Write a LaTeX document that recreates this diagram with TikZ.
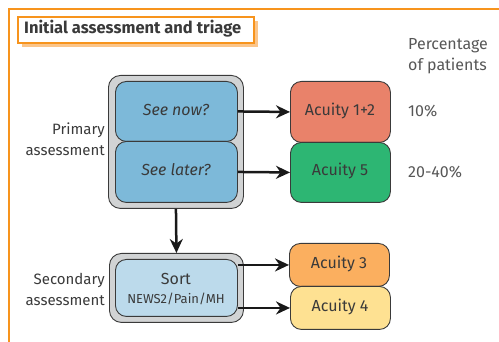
\documentclass[tikz,border=0pt]{standalone}
\usepackage{fontspec}
\setmainfont{Fira Sans}
\usetikzlibrary{arrows.meta}
\definecolor{frameor}{HTML}{F7941D}
\definecolor{shadowor}{HTML}{FBC58A}
\definecolor{greyfill}{HTML}{D1D3D4}
\definecolor{edge}{HTML}{3A3A3A}
\definecolor{txt}{HTML}{3A3A3A}
\definecolor{blue1}{HTML}{7DB9D9}
\definecolor{blue2}{HTML}{BCDAEB}
\definecolor{red1}{HTML}{E9826A}
\definecolor{green1}{HTML}{2DB673}
\definecolor{orange1}{HTML}{FBAF5F}
\definecolor{yellow1}{HTML}{FEE192}
\tikzset{
  outerbox/.style={draw=edge, line width=0.9pt, fill=greyfill, rounded corners=12pt},
  innerbox/.style={draw=edge, line width=0.9pt, rounded corners=11pt},
  lbl/.style={text=txt, font=\fontsize{16}{18}\selectfont, inner sep=0pt},
  side/.style={text=txt, font=\fontsize{15}{21}\selectfont, align=right, inner sep=0pt, anchor=east},
  pct/.style={text=txt!85, font=\fontsize{16}{21}\selectfont, align=left, inner sep=0pt, anchor=west},
  arr/.style={line width=2.5pt, draw=black!90, -{Stealth[length=14pt,width=13pt]}},
}
\begin{document}
\begin{tikzpicture}[x=1pt,y=-1pt]
\useasboundingbox (0,0) rectangle (499,342);
% frame
\draw[frameor, line width=2.4pt] (499,9) -| (9,342);
% title
\fill[shadowor] (22,21) rectangle (258,47);
\node[draw=frameor, line width=2.2pt, fill=white, minimum width=236pt, minimum height=26pt, anchor=north west, inner sep=0pt] (title) at (17,16) {};
\node[text=txt, font=\bfseries\fontsize{16.5}{18}\selectfont, anchor=west, inner sep=0pt] (titletext) at (24,29) {Initial assessment and triage};
% primary
\node[outerbox, minimum width=135pt, minimum height=133pt, anchor=north west, inner sep=0pt] (prim) at (108,75) {};
\node[innerbox, fill=blue1, minimum width=122pt, minimum height=60pt, anchor=north west, inner sep=0pt] (now) at (115,81) {};
\node[innerbox, fill=blue1, minimum width=122pt, minimum height=61pt, anchor=north west, inner sep=0pt] (later) at (115,141) {};
\node[lbl, font=\itshape\fontsize{16}{18}\selectfont] (nowt) at (176,110) {See now?};
\node[lbl, font=\itshape\fontsize{16}{18}\selectfont] (latert) at (176,170) {See later?};
% acuity
\node[innerbox, fill=red1, minimum width=100pt, minimum height=61pt, anchor=north west, inner sep=0pt] (a12) at (290,81) {};
\node[innerbox, fill=green1, minimum width=100pt, minimum height=60pt, anchor=north west, inner sep=0pt] (a5) at (290,142) {};
\node[lbl] (a12t) at (340,111) {Acuity 1+2};
\node[lbl] (a5t) at (340,171) {Acuity 5};
% secondary
\node[outerbox, minimum width=134pt, minimum height=69pt, anchor=north west, inner sep=0pt] (sec) at (109,253) {};
\node[innerbox, fill=blue2, minimum width=122pt, minimum height=57pt, anchor=north west, inner sep=0pt] (sort) at (115,259) {};
\node[lbl] (sortt) at (176,279) {Sort};
\node[lbl, font=\fontsize{13}{14}\selectfont] (newst) at (176,299) {NEWS2/Pain/MH};
\node[innerbox, fill=orange1, minimum width=100pt, minimum height=43pt, anchor=north west, inner sep=0pt] (a3) at (289,243) {};
\node[innerbox, fill=yellow1, minimum width=100pt, minimum height=43pt, anchor=north west, inner sep=0pt] (a4) at (290,286) {};
\node[lbl] (a3t) at (339,264) {Acuity 3};
\node[lbl] (a4t) at (340,307) {Acuity 4};
% side labels
\node[side] (primlbl) at (105,139) {Primary\\assessment};
\node[side] (seclbl) at (105,289) {Secondary\\assessment};
% percentages
\node[pct] (pcthead) at (408,56) {Percentage\\of patients};
\node[pct] (p10) at (408,111) {10\%};
\node[pct] (p20) at (408,172) {20-40\%};
% arrows
\draw[arr] (now.east) -- (a12.west);
\draw[arr] (later.east) -- (a5.west);
\draw[arr] (prim.south) -- (sec.north);
\draw[arr] (sort.east |- a3.west) -- (a3.west);
\draw[arr] (sort.east |- a4.west) -- (a4.west);
\end{tikzpicture}
\end{document}
